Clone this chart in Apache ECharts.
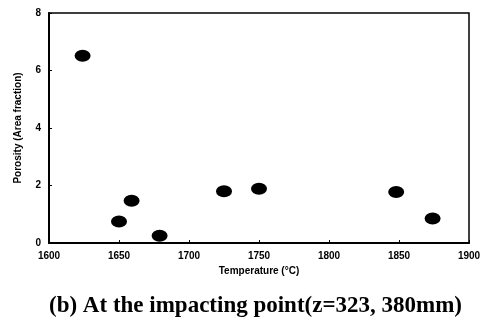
<!DOCTYPE html>
<html>
<head>
<meta charset="utf-8">
<script src="https://cdn.jsdelivr.net/npm/echarts@6/dist/echarts.min.js"></script>
<style>
  html, body { margin: 0; padding: 0; background: #fff; }
  #chart { width: 491px; height: 321px; }
</style>
</head>
<body>
<div id="chart"></div>
<script>
    // temperature (C) vs porosity (area fraction)
    var temps = [1624, 1650, 1659, 1679, 1725, 1750, 1848, 1874];
    var porosity = [6.51, 0.75, 1.47, 0.25, 1.80, 1.89, 1.77, 0.85];
    var caption = "(b) At the impacting point(z=323, 380mm)";

    var pts = [];
    for (var i = 0; i < temps.length; i++) {
        pts.push([temps[i], porosity[i]]);
    }

    var lab = { color: '#000', fontFamily: 'Liberation Sans', fontWeight: 'bold', fontSize: 10 };

    var option = {
        animation: false,
        backgroundColor: '#fff',
        grid: { left: 49, right: 22, top: 13, bottom: 78, show: true, borderColor: '#000', borderWidth: 1.5 },
        title: {
            text: caption,
            left: 44,
            top: 290,
            textStyle: { fontFamily: 'Liberation Serif', fontWeight: 'bold', fontSize: 23, color: '#000' }
        },
        xAxis: {
            type: 'value', min: 1600, max: 1900, interval: 50,
            name: 'Temperature (°C)', nameLocation: 'middle', nameGap: 22,
            nameTextStyle: lab,
            axisLine: { lineStyle: { color: '#000', width: 2 } },
            axisTick: { inside: true, length: 3, lineStyle: { color: '#000' } },
            axisLabel: { color: '#000', fontFamily: 'Liberation Sans', fontWeight: 'bold', fontSize: 10,
                formatter: function (v) { return String(v); } },
            splitLine: { show: false }
        },
        yAxis: {
            type: 'value', min: 0, max: 8, interval: 2,
            name: 'Porosity (Area fraction)', nameLocation: 'middle', nameGap: 26,
            nameTextStyle: lab,
            axisLine: { show: true, lineStyle: { color: '#000', width: 2 } },
            axisTick: { show: true, inside: true, length: 3, lineStyle: { color: '#000' } },
            axisLabel: lab,
            splitLine: { show: false }
        },
        series: [{
            type: 'scatter',
            data: pts,
            symbol: 'circle',
            symbolSize: [16, 12],
            itemStyle: { color: '#000', opacity: 1 }
        }]
    };

    var myChart = echarts.init(document.getElementById('chart'));
    myChart.setOption(option);
</script>
</body>
</html>
